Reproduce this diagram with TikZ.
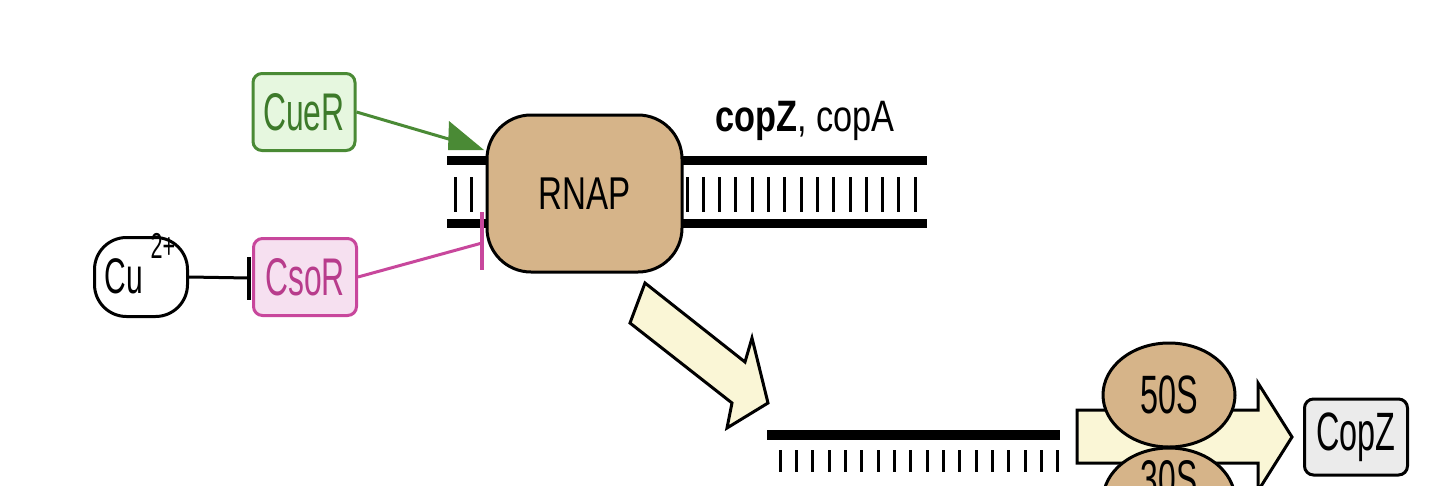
\documentclass[tikz,border=0pt]{standalone}
\usepackage{fontspec}
\usetikzlibrary{shapes.geometric}
\setmainfont{Liberation Sans}
\newfontfamily\cf[FakeStretch=0.6]{Liberation Sans}
\newfontfamily\rf[FakeStretch=0.72]{Liberation Sans}
\newfontfamily\gf[FakeStretch=0.78]{Liberation Sans}
\definecolor{gborder}{HTML}{4A8A35}
\definecolor{gfill}{HTML}{E6F7DF}
\definecolor{gtext}{HTML}{3D7A2A}
\definecolor{mborder}{HTML}{C8479C}
\definecolor{mfill}{HTML}{F6E0F0}
\definecolor{mtext}{HTML}{B83C8C}
\definecolor{tan}{HTML}{D6B489}
\definecolor{pale}{HTML}{FAF6D6}
\definecolor{lgrey}{HTML}{EBEBEB}
\tikzset{
  lbl/.style={font=\cf\fontsize{53}{53}\selectfont, inner sep=0pt},
  protbox/.style={draw, line width=3pt, rounded corners=9pt, inner sep=0pt},
  strand/.style={line width=9pt},
  rung/.style={line width=3pt},
  blockarrow/.style={draw=black, fill=pale, line width=3pt, line join=miter},
  ribo/.style={ellipse, draw, fill=tan, line width=3pt, inner sep=0pt, minimum width=132pt, minimum height=104pt},
}
\begin{document}
\begin{tikzpicture}[x=1pt,y=-1pt]
\path[use as bounding box] (0,0) rectangle (1449,485);
\clip (0,0) rectangle (1449,485);
\fill[white] (0,0) rectangle (1449,485);

% DNA double strand
\draw[strand] (447,160) -- (927,160);
\draw[strand] (447,223) -- (927,223);
\foreach \x in {455,471,487} \draw[rung] (\x,177) -- (\x,212);
\foreach \i in {0,...,14} \draw[rung] ({687+16.3*\i},177) -- ({687+16.3*\i},212);

% RNAP
\node[protbox, fill=tan, rounded corners=44pt, minimum width=195pt, minimum height=157pt,
      font=\rf\fontsize{46}{46}\selectfont] (rnap) at (584.5,193.5) {RNAP};

% gene label
\node[font=\gf\fontsize{44}{44}\selectfont, inner sep=0pt, anchor=base] (genes) at (805,131) {\textbf{copZ}, copA};

% regulators
\node[protbox, draw=gborder, fill=gfill, text=gtext, minimum width=102pt, minimum height=77pt, font=\cf\fontsize{53}{53}\selectfont] (cuer) at (304,112) {CueR};
\node[protbox, draw=mborder, fill=mfill, text=mtext, minimum width=103pt, minimum height=77pt, font=\cf\fontsize{53}{53}\selectfont] (csor) at (305,277) {CsoR};
\node[draw, line width=3pt, fill=white, rounded corners=32pt, minimum width=93pt, minimum height=79pt, inner sep=0pt] (cu) at (141,277) {};
\node[lbl, font=\cf\fontsize{50}{50}\selectfont] (cutext) at (124,276) {Cu};
\node[lbl, font=\cf\fontsize{36}{36}\selectfont] (cusup) at (163,246) {2+};

% connectors
\coordinate (cuebase) at (452,140);
\draw[gborder, line width=3pt] (cuer.east) -- (cuebase);
\fill[gborder] (449,121) -- (448,150) -- (484,150) -- cycle;

\coordinate (csoend) at (482,243);
\draw[mborder, line width=3pt] (csor.east) -- (csoend);
\draw[mborder, line width=4.5pt] (482,212) -- (482,270);

\coordinate (cubar) at (249,278);
\draw[line width=3pt] (cu.east) -- (cubar);
\draw[line width=3.5pt] (249,257) -- (249,300);

% transcription arrow
\draw[blockarrow] (645,283) -- (745,362) -- (752,338) -- (768,403) -- (727,428) -- (732,403) -- (630,323) -- cycle;

% mRNA
\draw[line width=10pt] (767,435) -- (1060,435);
\foreach \i in {0,...,17} \draw[rung] ({780+16.35*\i},450) -- ({780+16.35*\i},472);

% translation arrow
\draw[blockarrow] (1077,410) -- (1258,410) -- (1258,383) -- (1292,437) -- (1258,491) -- (1258,463) -- (1077,463) -- cycle;

% ribosome
\node[ribo] (s30) at (1169,500) {};
\node[lbl] (s30t) at (1169,479) {30S};
\node[ribo, font=\cf\fontsize{54}{54}\selectfont] (s50) at (1169,395) {50S};

% product
\node[protbox, fill=lgrey, minimum width=103pt, minimum height=76pt, font=\cf\fontsize{54}{54}\selectfont] (copz) at (1356,437) {CopZ};
\end{tikzpicture}
\end{document}
